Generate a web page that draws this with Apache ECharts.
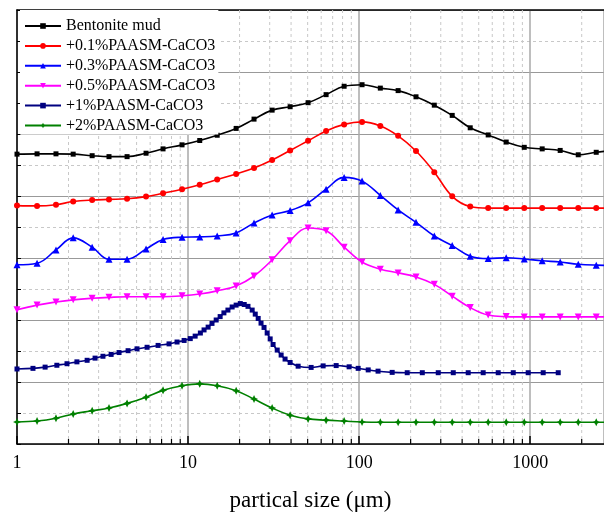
<!DOCTYPE html>
<html>
<head>
<meta charset="utf-8">
<script src="https://cdn.jsdelivr.net/npm/echarts@6/dist/echarts.min.js"></script>
<style>
  html, body { margin: 0; padding: 0; background: #fff; }
  #chart { width: 604px; height: 513px; }
</style>
</head>
<body>
<div id="chart"></div>
<script>
// Particle size bins (µm) shared by the laser-diffraction curves
const sizes = [1, 1.31, 1.69, 2.13, 2.75, 3.45, 4.40, 5.68, 7.14, 9.22, 11.7, 14.8, 19.1, 24.3, 31.0, 39.5,
  50.3, 64.1, 81.7, 104, 133, 169, 215, 275, 350, 446, 568, 724, 923, 1175, 1497, 1909, 2432, 3100];

// Stacked (offset) distribution curves
const bentonite = [9.35, 9.36, 9.36, 9.35, 9.30, 9.27, 9.27, 9.38, 9.52, 9.65, 9.79, 9.96, 10.18, 10.48, 10.77, 10.88,
  11.01, 11.27, 11.54, 11.59, 11.48, 11.40, 11.20, 10.93, 10.60, 10.20, 9.97, 9.74, 9.57, 9.52, 9.47, 9.33, 9.41, 9.47];
const paasm01 = [7.69, 7.68, 7.72, 7.82, 7.87, 7.89, 7.91, 7.98, 8.09, 8.22, 8.36, 8.53, 8.71, 8.90, 9.16, 9.47,
  9.78, 10.10, 10.31, 10.39, 10.26, 9.94, 9.45, 8.77, 7.99, 7.66, 7.61, 7.61, 7.61, 7.61, 7.61, 7.61, 7.61, 7.61];
const paasm03 = [5.78, 5.83, 6.26, 6.65, 6.35, 5.96, 5.96, 6.29, 6.60, 6.67, 6.68, 6.71, 6.81, 7.13, 7.39, 7.53,
  7.78, 8.22, 8.60, 8.48, 8.02, 7.55, 7.15, 6.71, 6.40, 6.06, 5.98, 6.01, 5.97, 5.91, 5.87, 5.80, 5.77, 5.76];
const paasm05 = [4.33, 4.48, 4.58, 4.65, 4.70, 4.73, 4.75, 4.75, 4.75, 4.78, 4.84, 4.94, 5.10, 5.42, 5.94, 6.56,
  6.97, 6.88, 6.35, 5.87, 5.64, 5.52, 5.39, 5.15, 4.77, 4.40, 4.16, 4.11, 4.10, 4.10, 4.10, 4.10, 4.10, 4.10];
const paasm2 = [0.71, 0.74, 0.83, 0.97, 1.07, 1.16, 1.31, 1.51, 1.73, 1.88, 1.94, 1.88, 1.72, 1.45, 1.16, 0.93,
  0.81, 0.77, 0.74, 0.71, 0.70, 0.70, 0.70, 0.70, 0.70, 0.70, 0.70, 0.70, 0.70, 0.70, 0.70, 0.70, 0.70, 0.70];

// The 1% sample was measured on a finer size grid
const paasm1Sizes = [1.00, 1.24, 1.46, 1.71, 1.96, 2.24, 2.57, 2.86, 3.18, 3.55, 3.95, 4.46, 5.03, 5.76, 6.68,
  7.74, 8.62, 9.48, 10.3, 11.0, 11.8, 12.4, 13.1, 13.8, 14.6, 15.4, 16.2, 17.1, 18.1, 19.1, 20.2, 21.3, 22.4,
  23.7, 24.7, 25.7, 26.7, 27.8, 29.0, 30.2, 31.4, 33.2, 35.0, 36.9, 39.5, 44.0, 52.4, 61.6, 73.4, 87.4, 98.7,
  113, 129, 156, 191, 234, 290, 355, 434, 531, 650, 796, 973, 1191, 1458];
const paasm1 = [2.42, 2.44, 2.48, 2.54, 2.59, 2.65, 2.70, 2.77, 2.83, 2.89, 2.95, 3.01, 3.07, 3.12, 3.18,
  3.23, 3.29, 3.34, 3.40, 3.48, 3.58, 3.68, 3.77, 3.89, 4.00, 4.11, 4.23, 4.32, 4.42, 4.48, 4.53, 4.50, 4.44,
  4.32, 4.19, 4.05, 3.90, 3.76, 3.58, 3.39, 3.21, 3.03, 2.87, 2.74, 2.63, 2.51, 2.47, 2.52, 2.53, 2.49, 2.44,
  2.39, 2.35, 2.31, 2.30, 2.30, 2.30, 2.30, 2.30, 2.30, 2.30, 2.30, 2.30, 2.30, 2.30];

// Axis decorations
const majorSizes = [1, 10, 100, 1000];
const xTickLabels = ['1', '10', '100', '1000'];
const minorSizes = [2, 3, 4, 5, 6, 7, 8, 9, 20, 30, 40, 50, 60, 70, 80, 90,
  200, 300, 400, 500, 600, 700, 800, 900, 2000];

const seriesNames = ['Bentonite mud', '+0.1%PAASM-CaCO3', '+0.3%PAASM-CaCO3',
  '+0.5%PAASM-CaCO3', '+1%PAASM-CaCO3', '+2%PAASM-CaCO3'];

const FONT = "'Liberation Serif', 'Times New Roman', serif";
const starPath = 'path://M0,-5 L1.6,-1.6 L5,0 L1.6,1.6 L0,5 L-1.6,1.6 L-5,0 L-1.6,-1.6 Z';

function pair(xs, ys) { return ys.map((y, i) => [xs[i], y]); }

function curve(name, xs, ys, color, symbol, symbolSize) {
  return {
    type: 'line', name, data: pair(xs, ys), smooth: 0.4, clip: true,
    symbol, symbolSize, showAllSymbol: true,
    lineStyle: { color, width: 1.6 },
    itemStyle: { color, borderWidth: 0 },
    z: 3
  };
}

const chart = echarts.init(document.getElementById('chart'), null, { renderer: 'canvas' });

chart.setOption({
  animation: false,
  backgroundColor: '#fff',
  textStyle: { fontFamily: FONT },
  grid: { left: 17, right: 0, top: 10, bottom: 69, containLabel: false, outerBoundsMode: 'none' },
  legend: {
    data: seriesNames,
    orient: 'vertical', left: 20, top: 10,
    padding: [8, 3, 1, 4],
    itemGap: 3.9, itemWidth: 36, itemHeight: 7,
    backgroundColor: '#fff',
    textStyle: { fontFamily: FONT, fontSize: 16, color: '#000', lineHeight: 15 },
    z: 5
  },
  xAxis: [{
    type: 'log', logBase: 10, min: 1, max: 2700,
    position: 'bottom',
    axisLine: { lineStyle: { color: '#000', width: 1.5 } },
    axisTick: { inside: true, length: 8, lineStyle: { color: '#000', width: 1.5 } },
    axisLabel: {
      fontFamily: FONT, fontSize: 18, color: '#000', margin: 10, showMaxLabel: false,
      formatter: v => {
        const i = majorSizes.findIndex(m => Math.abs(m - v) < 1e-6 * m);
        return i >= 0 ? xTickLabels[i] : '';
      }
    },
    splitLine: { show: true, lineStyle: { color: '#a8a8a8', width: 1.5 } },
    name: 'partical size (\u03bcm)',
    nameLocation: 'middle', nameGap: 45,
    nameTextStyle: { fontFamily: FONT, fontSize: 23, color: '#000' }
  }, {
    type: 'log', logBase: 10, min: 1, max: 2700,
    position: 'top',
    axisLine: { lineStyle: { color: '#000', width: 1.5 } },
    axisTick: { show: false }, axisLabel: { show: false }, splitLine: { show: false }
  }],
  yAxis: {
    type: 'value', min: 0, max: 14, interval: 2,
    axisLine: { show: true, lineStyle: { color: '#000', width: 1.5 } },
    axisTick: { inside: true, length: 4, lineStyle: { color: '#000', width: 1 } },
    minorTick: { show: true, splitNumber: 2, length: 4, lineStyle: { color: '#000', width: 1 } },
    axisLabel: { show: false },
    splitLine: { show: true, lineStyle: { color: '#999', width: 1.2 } },
    minorSplitLine: { show: true, lineStyle: { color: '#c8c8c8', width: 1, type: [3, 3] } }
  },
  series: [
    {
      type: 'custom', name: 'minor-grid', silent: true, z: 1,
      data: minorSizes.map(v => [v, 0]),
      encode: { x: 0, y: 1 },
      renderItem: (params, api) => {
        const x = api.coord([api.value(0), 0])[0];
        const cs = params.coordSys;
        const bottom = cs.y + cs.height;
        return {
          type: 'group',
          children: [
            { type: 'line', shape: { x1: x, y1: cs.y, x2: x, y2: bottom },
              style: { stroke: '#c8c8c8', lineWidth: 1, lineDash: [3, 3] } },
            { type: 'line', shape: { x1: x, y1: bottom, x2: x, y2: bottom - 5 },
              style: { stroke: '#000', lineWidth: 1.2 } }
          ]
        };
      }
    },
    curve(seriesNames[0], sizes, bentonite, '#000000', 'rect', 5),
    curve(seriesNames[1], sizes, paasm01, '#ff0000', 'circle', 6),
    curve(seriesNames[2], sizes, paasm03, '#0000ff', 'triangle', 7),
    { ...curve(seriesNames[3], sizes, paasm05, '#ff00ff', 'triangle', 7), symbolRotate: 180 },
    curve(seriesNames[4], paasm1Sizes, paasm1, '#000080', 'rect', 5),
    curve(seriesNames[5], sizes, paasm2, '#008000', starPath, 8)
  ]
});
</script>
</body>
</html>
